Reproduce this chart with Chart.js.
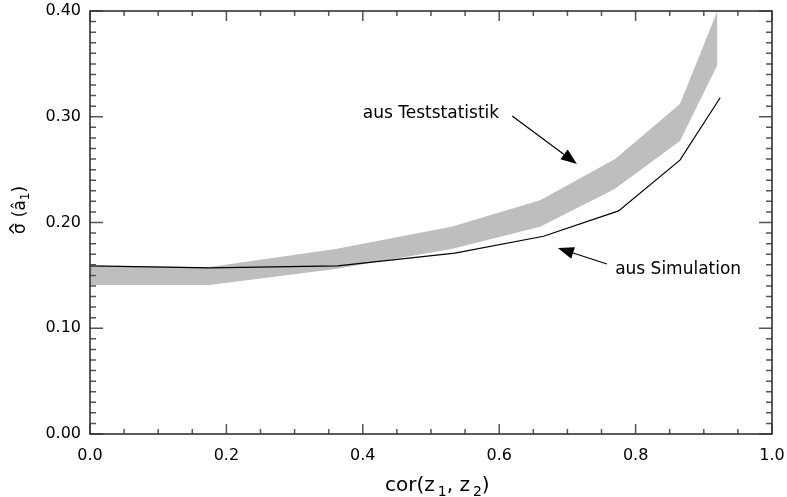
<!DOCTYPE html>
<html lang="de">
<head>
  <meta charset="UTF-8" />
  <title>Streuung von a1</title>
  <script src="https://cdn.jsdelivr.net/npm/chart.js"></script>
  <style>
    body { margin: 0; background: #fff; }
  </style>
</head>
<body>
  <canvas id="chart" width="787" height="497"></canvas>

  <script>
    // band "aus Teststatistik" (upper / lower edge)
    const bandX     = [0, 0.175, 0.36, 0.53, 0.66, 0.77, 0.865, 0.92];
    const bandUpper = [0.159, 0.158, 0.175, 0.196, 0.221, 0.260, 0.312, 0.400];
    const bandLower = [0.141, 0.141, 0.156, 0.175, 0.196, 0.232, 0.277, 0.349];

    // line "aus Simulation"
    const simX = [0, 0.175, 0.363, 0.535, 0.665, 0.775, 0.865, 0.924];
    const simY = [0.159, 0.157, 0.159, 0.171, 0.187, 0.211, 0.259, 0.318];

    // annotations: label position and arrow (start -> tip), in data units
    const noteTexts  = ["aus Teststatistik", "aus Simulation"];
    const noteAt     = [[0.400, 0.299], [0.770, 0.1516]];
    const arrowFrom  = [[0.619, 0.3007], [0.758, 0.1608]];
    const arrowTo    = [[0.714, 0.2554], [0.686, 0.1758]];

    const toPts = (xs, ys) => xs.map((x, i) => ({ x: x, y: ys[i] }));

    Chart.defaults.font.family = "DejaVu Sans";
    Chart.defaults.font.size = 16;
    Chart.defaults.color = "#000";

    const FONT = "DejaVu Sans";

    // frame with inward ticks on all four sides
    const framePlugin = {
      id: "frame",
      afterDatasetsDraw(chart) {
        const { ctx, chartArea: a, scales } = chart;
        const xs = scales.x, ys = scales.y;
        ctx.save();
        ctx.strokeStyle = "#555";
        ctx.lineWidth = 1.5;
        for (let i = 0; i <= 20; i++) {
          const px = xs.getPixelForValue(i * 0.05);
          const len = i % 4 === 0 ? 10 : 5;
          ctx.beginPath();
          ctx.moveTo(px, a.bottom); ctx.lineTo(px, a.bottom - len);
          ctx.moveTo(px, a.top); ctx.lineTo(px, a.top + len);
          ctx.stroke();
        }
        for (let i = 0; i <= 40; i++) {
          const py = ys.getPixelForValue(i * 0.01);
          const len = i % 10 === 0 ? 13 : 6;
          ctx.beginPath();
          ctx.moveTo(a.left, py); ctx.lineTo(a.left + len, py);
          ctx.moveTo(a.right, py); ctx.lineTo(a.right - len, py);
          ctx.stroke();
        }
        ctx.strokeStyle = "#333";
        ctx.lineWidth = 1.6;
        ctx.strokeRect(a.left, a.top, a.right - a.left, a.bottom - a.top);
        ctx.restore();
      },
      afterDraw(chart) {
        const { ctx, chartArea: a, scales } = chart;
        const xs = scales.x, ys = scales.y;
        ctx.save();
        ctx.fillStyle = "#000";
        ctx.strokeStyle = "#000";

        // annotations
        ctx.font = "17px '" + FONT + "'";
        ctx.textBaseline = "alphabetic";
        noteTexts.forEach((t, i) => {
          ctx.fillText(t, xs.getPixelForValue(noteAt[i][0]), ys.getPixelForValue(noteAt[i][1]));
          const x0 = xs.getPixelForValue(arrowFrom[i][0]), y0 = ys.getPixelForValue(arrowFrom[i][1]);
          const x1 = xs.getPixelForValue(arrowTo[i][0]),   y1 = ys.getPixelForValue(arrowTo[i][1]);
          const ang = Math.atan2(y1 - y0, x1 - x0);
          const hl = 16, hw = 6;
          const bx = x1 - hl * Math.cos(ang), by = y1 - hl * Math.sin(ang);
          ctx.lineWidth = 1.2;
          ctx.beginPath();
          ctx.moveTo(x0, y0); ctx.lineTo(bx, by);
          ctx.stroke();
          ctx.beginPath();
          ctx.moveTo(x1, y1);
          ctx.lineTo(bx + hw * Math.sin(ang), by - hw * Math.cos(ang));
          ctx.lineTo(bx - hw * Math.sin(ang), by + hw * Math.cos(ang));
          ctx.closePath();
          ctx.fill();
        });

        // x axis title: cor(z1, z2)
        let x = 385, base = 491;
        const part = (s, size, dy) => {
          ctx.font = size + "px '" + FONT + "'";
          ctx.fillText(s, x, base + dy);
          x += ctx.measureText(s).width;
        };
        part("cor(z", 20, 0); x += 3;
        part("1", 14, 5);
        part(", z", 20, 0); x += 3;
        part("2", 14, 5);
        part(")", 20, 0);

        // y axis title: sigma-hat (a-hat 1), rotated
        ctx.translate(25, 234);
        ctx.rotate(-Math.PI / 2);
        x = 0; base = 0;
        ctx.font = "17px '" + FONT + "'";
        const sw = ctx.measureText("σ").width;
        ctx.fillText("σ", 0, 0);
        ctx.textAlign = "center";
        ctx.fillText("^", sw / 2, -3);
        ctx.textAlign = "left";
        x = sw + 6;
        part("(â", 17, 0);
        part("1", 12, 4);
        part(")", 17, 0);
        ctx.restore();
      }
    };

    const ctx = document.getElementById("chart").getContext("2d");
    new Chart(ctx, {
      type: "line",
      data: {
        datasets: [
          {
            label: "aus Simulation",
            data: toPts(simX, simY),
            borderColor: "#000",
            borderWidth: 1.2,
            pointRadius: 0,
            fill: false,
            tension: 0
          },
          {
            label: "aus Teststatistik (oben)",
            data: toPts(bandX, bandUpper),
            borderColor: "rgba(0,0,0,0)",
            borderWidth: 0,
            backgroundColor: "#bebebe",
            pointRadius: 0,
            fill: "+1",
            tension: 0
          },
          {
            label: "aus Teststatistik (unten)",
            data: toPts(bandX, bandLower),
            borderColor: "rgba(0,0,0,0)",
            borderWidth: 0,
            pointRadius: 0,
            fill: false,
            tension: 0
          }
        ]
      },
      options: {
        responsive: false,
        animation: false,
        layout: { padding: { top: 11, right: 15, left: 0, bottom: 0 } },
        plugins: {
          legend: { display: false },
          tooltip: { enabled: false }
        },
        scales: {
          x: {
            type: "linear",
            min: 0,
            max: 1,
            grid: { display: false, drawTicks: false },
            border: { display: false },
            ticks: {
              stepSize: 0.2,
              padding: 12,
              maxRotation: 0,
              callback: v => v.toFixed(1)
            },
            afterFit: s => {
              s.height = 63;
              s.paddingLeft = 0;
              s.paddingRight = 0;
            }
          },
          y: {
            min: 0,
            max: 0.4,
            grid: { display: false, drawTicks: false },
            border: { display: false },
            ticks: {
              stepSize: 0.1,
              padding: 9,
              callback: v => v.toFixed(2)
            },
            afterFit: s => {
              s.width = 90;
              s.paddingTop = 0;
              s.paddingBottom = 0;
            }
          }
        }
      },
      plugins: [framePlugin]
    });
  </script>
</body>
</html>
